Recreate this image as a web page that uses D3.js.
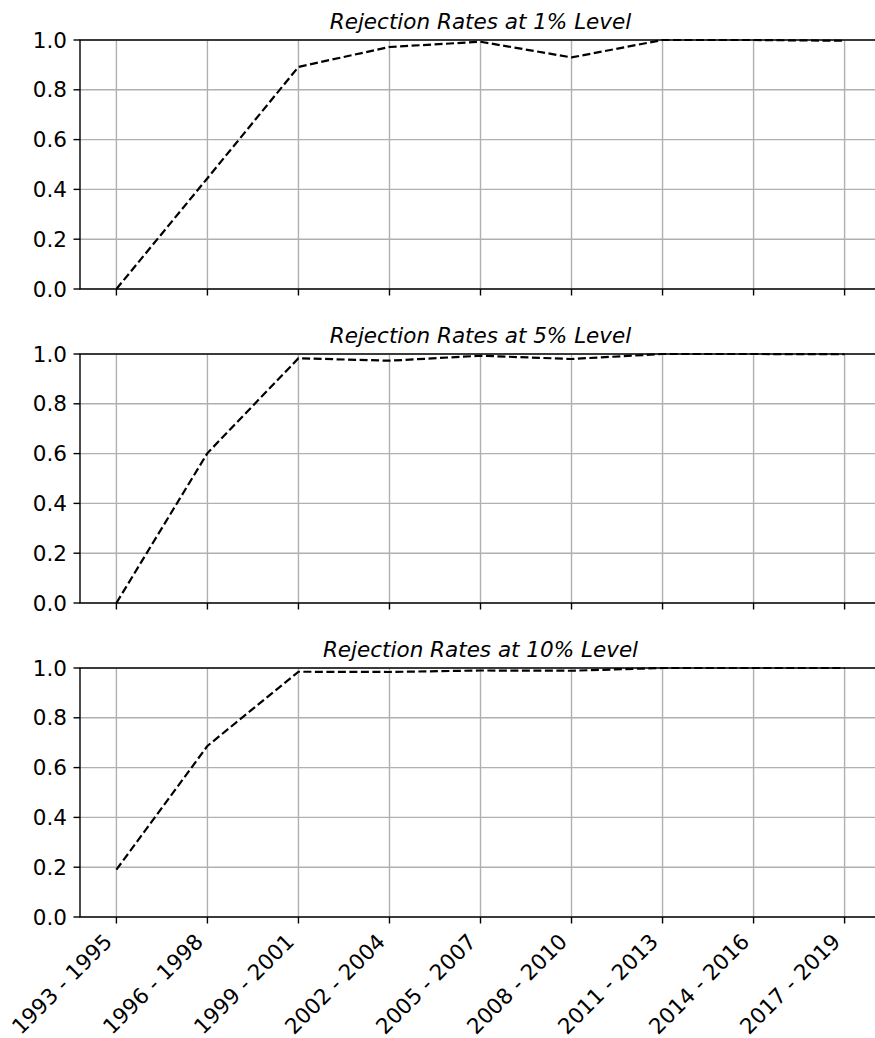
<!DOCTYPE html>
<html>
<head>
<meta charset="utf-8">
<script src="https://cdn.jsdelivr.net/npm/d3@7"></script>
<style>
  html, body { margin: 0; padding: 0; background: #fff; }
  svg { display: block; font-family: "DejaVu Sans", sans-serif; }
</style>
</head>
<body>
<svg id="chart" width="875" height="1038"></svg>
<script>
const periods = ["1993 - 1995", "1996 - 1998", "1999 - 2001", "2002 - 2004", "2005 - 2007",
                 "2008 - 2010", "2011 - 2013", "2014 - 2016", "2017 - 2019"];
const rates1  = [0.0, 0.445, 0.892, 0.972, 0.993, 0.930, 1.0, 1.0, 0.997];
const rates5  = [0.0, 0.602, 0.983, 0.973, 0.993, 0.980, 1.0, 1.0, 0.999];
const rates10 = [0.19, 0.687, 0.985, 0.984, 0.990, 0.989, 1.0, 1.0, 1.0];
const titles  = ["Rejection Rates at 1% Level", "Rejection Rates at 5% Level", "Rejection Rates at 10% Level"];
const yTicks  = [0.0, 0.2, 0.4, 0.6, 0.8, 1.0];

const panels = [
  { title: titles[0], values: rates1,  top: 40,  bottom: 289 },
  { title: titles[1], values: rates5,  top: 354, bottom: 603 },
  { title: titles[2], values: rates10, top: 668, bottom: 917 }
];

const svg = d3.select("#chart");
const left = 80, right = 881;
const x = d3.scaleLinear().domain([-0.4, periods.length - 1 + 0.4]).range([left, right]);
const fs = 21.5;
const tickLen = 6.5, tickPad = 6.5;

panels.forEach((p, pi) => {
  const y = d3.scaleLinear().domain([0, 1]).range([p.bottom, p.top]);
  const g = svg.append("g");

  // grid
  g.selectAll(".vg").data(periods).enter().append("line")
    .attr("x1", (d, i) => x(i)).attr("x2", (d, i) => x(i))
    .attr("y1", p.top).attr("y2", p.bottom)
    .attr("stroke", "#b0b0b0").attr("stroke-width", 1.4);
  g.selectAll(".hg").data(yTicks).enter().append("line")
    .attr("x1", left).attr("x2", right)
    .attr("y1", d => y(d)).attr("y2", d => y(d))
    .attr("stroke", "#b0b0b0").attr("stroke-width", 1.4);

  // data line
  const line = d3.line().x((d, i) => x(i)).y(d => y(d));
  g.append("path").datum(p.values)
    .attr("d", line)
    .attr("fill", "none")
    .attr("stroke", "#000")
    .attr("stroke-width", 2.2)
    .attr("stroke-dasharray", "8,3.5");

  // spines
  g.append("rect").attr("x", left).attr("y", p.top)
    .attr("width", right - left).attr("height", p.bottom - p.top)
    .attr("fill", "none").attr("stroke", "#000").attr("stroke-width", 1.4);

  // y ticks
  yTicks.forEach(t => {
    g.append("line").attr("x1", left - tickLen).attr("x2", left)
      .attr("y1", y(t)).attr("y2", y(t)).attr("stroke", "#000").attr("stroke-width", 1.4);
    g.append("text").attr("x", left - tickLen - tickPad).attr("y", y(t))
      .attr("text-anchor", "end").attr("dominant-baseline", "central")
      .attr("font-size", fs).attr("fill", "#000").text(t.toFixed(1));
  });

  // x ticks
  periods.forEach((d, i) => {
    g.append("line").attr("x1", x(i)).attr("x2", x(i))
      .attr("y1", p.bottom).attr("y2", p.bottom + tickLen)
      .attr("stroke", "#000").attr("stroke-width", 1.4);
  });

  if (pi === panels.length - 1) {
    periods.forEach((d, i) => {
      g.append("text")
        .attr("transform", `translate(${x(i) - 3},${p.bottom + 26}) rotate(-45)`)
        .attr("text-anchor", "end")
        .attr("font-size", fs).attr("fill", "#000").text(d);
    });
  }

  // title
  g.append("text").attr("x", (left + right) / 2).attr("y", p.top - 11)
    .attr("text-anchor", "middle").attr("font-size", fs).attr("font-style", "italic")
    .attr("fill", "#000").text(p.title);
});
</script>
</body>
</html>
